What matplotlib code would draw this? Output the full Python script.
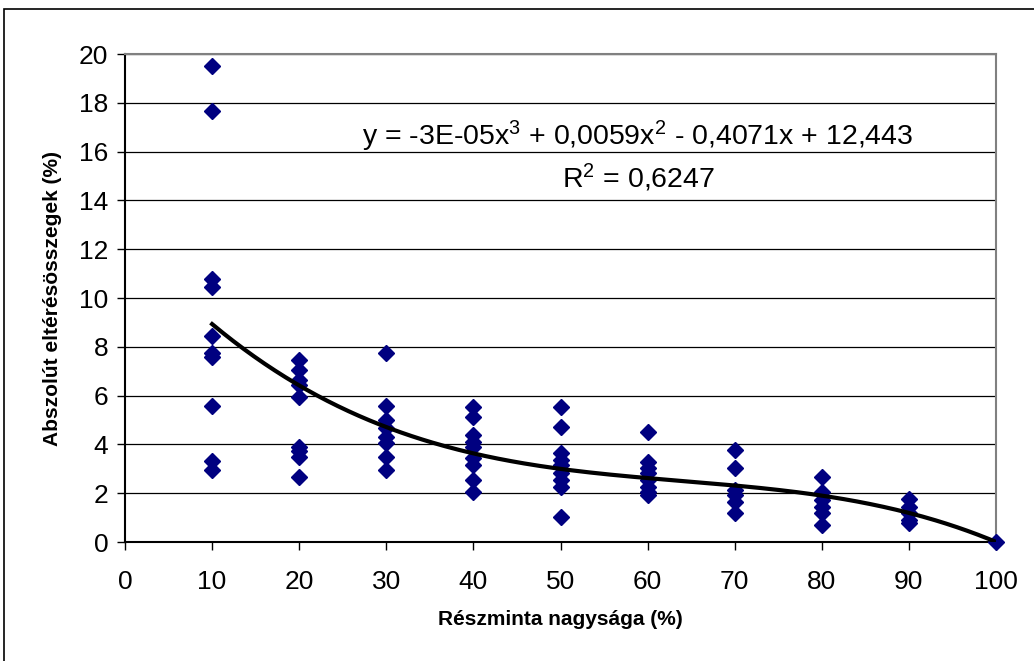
import numpy as np
import matplotlib
matplotlib.use("Agg")
import matplotlib.pyplot as plt
from matplotlib.patches import Rectangle

plt.rcParams['font.family'] = ['Liberation Sans', 'DejaVu Sans']
plt.rcParams['mathtext.fontset'] = 'custom'
plt.rcParams['mathtext.rm'] = 'Liberation Sans'
plt.rcParams['mathtext.it'] = 'Liberation Sans'

# részminta nagysága (%) -> abszolút eltérésösszegek (%)
x10 = [19.5, 17.65, 10.77, 10.46, 8.44, 7.75, 7.6, 5.59, 3.33, 2.95]
x20 = [7.46, 7.05, 6.64, 6.43, 5.96, 3.88, 3.74, 3.5, 2.65]
x30 = [7.73, 5.57, 5.0, 4.66, 4.32, 4.04, 3.5, 2.95]
x40 = [5.55, 5.11, 4.39, 4.11, 3.91, 3.43, 3.16, 2.54, 2.06]
x50 = [5.55, 4.7, 3.66, 3.36, 3.16, 2.82, 2.54, 2.27, 1.04]
x60 = [4.52, 3.29, 3.02, 2.82, 2.54, 2.27, 2.06, 1.93]
x70 = [3.77, 3.05, 2.13, 1.93, 1.65, 1.2]
x80 = [2.65, 2.06, 1.72, 1.45, 1.17, 0.7]
x90 = [1.75, 1.45, 1.17, 0.9, 0.77]
x100 = [0.0]

groups = {10: x10, 20: x20, 30: x30, 40: x40, 50: x50,
          60: x60, 70: x70, 80: x80, 90: x90, 100: x100}

# trendline coefficients (3rd order, as in the label; cubic term unrounded)
trend_coef = [-3.073e-05, 0.0059, -0.4071, 12.443]

xs = np.concatenate([[k] * len(v) for k, v in groups.items()])
ys = np.concatenate([v for v in groups.values()])

fig = plt.figure(figsize=(10.34, 6.61), dpi=100)
ax = fig.add_axes([125 / 1034, 1 - 542 / 661, (996 - 125) / 1034, (542 - 54) / 661])

# outer chart border
fig.patches.append(Rectangle((4 / 1034, -0.1), 1.1, 1.1 - 9 / 661,
                             transform=fig.transFigure, fill=False,
                             edgecolor='black', linewidth=1.2))

ax.grid(True, axis='y', color='black', linewidth=0.9)
ax.set_axisbelow(True)

ax.plot(xs, ys, linestyle='none', marker='D', markersize=8.5,
        color='#000080', zorder=4, clip_on=False)

# trendline drawn on top of the markers
xt = np.linspace(10, 100, 300)
ax.plot(xt, np.polyval(trend_coef, xt), color='black', linewidth=3, zorder=5)

ax.set_xlim(0, 100)
ax.set_ylim(0, 20)
ax.set_xticks(np.arange(0, 101, 10))
ax.set_yticks(np.arange(0, 21, 2))
ax.tick_params(axis='both', labelsize=19, direction='out', length=6,
               width=1, color='black')
ax.tick_params(axis='x', pad=14)
ax.tick_params(axis='y', pad=6)

ax.spines['left'].set_color('black')
ax.spines['bottom'].set_color('black')
ax.spines['top'].set_color('#808080')
ax.spines['right'].set_color('#808080')
for s in ax.spines.values():
    s.set_linewidth(1.5)

ax.set_xlabel('Részminta nagysága (%)', fontsize=15, fontweight='bold', labelpad=12)
ax.set_ylabel('Abszolút eltérésösszegek (%)', fontsize=15, fontweight='bold', labelpad=12)

ax.text(638 / 1034, 1 - 136 / 661,
        'y = -3E-05x$^{3}$ + 0,0059x$^{2}$ - 0,4071x + 12,443',
        transform=fig.transFigure, ha='center', va='center', fontsize=20.5)
ax.text(638 / 1034, 1 - 178 / 661, 'R$^{2}$ = 0,6247',
        transform=fig.transFigure, ha='center', va='center', fontsize=20.5)

fig.savefig('out.png', dpi=100)
